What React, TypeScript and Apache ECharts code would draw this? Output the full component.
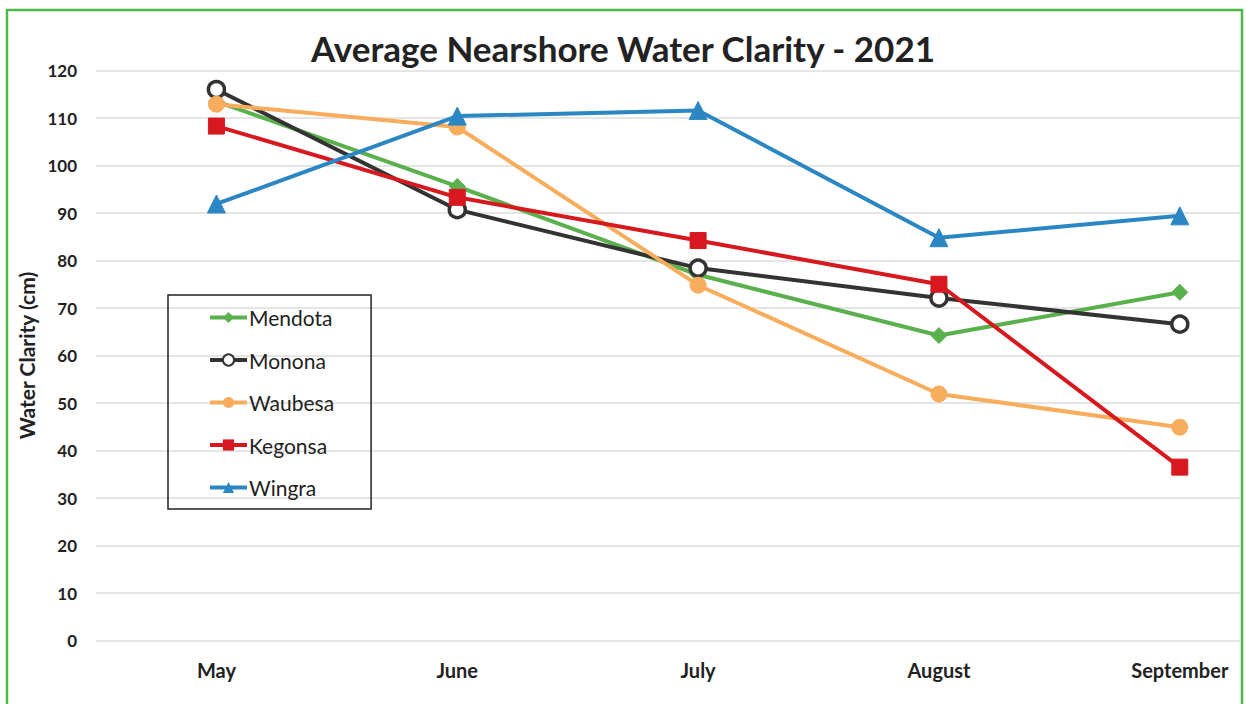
import React, { useEffect, useRef } from "react";
import * as echarts from "echarts";

const months = ["May", "June", "July", "August", "September"];
const mendota = [113.5, 95.6, 77, 64.2, 73.3];
const monona = [116, 90.7, 78.4, 72.1, 66.6];
const waubesa = [112.9, 108.1, 74.8, 51.9, 44.9];
const kegonsa = [108.3, 93.3, 84.2, 75, 36.5];
const wingra = [91.9, 110.4, 111.6, 84.8, 89.4];
const yTicks = { min: 0, max: 120, interval: 10 };

const toPoints = (vals: number[]) => vals.map((v, i) => [i, v]);

export default function App() {
  const ref = useRef<HTMLDivElement>(null);
  useEffect(() => {
    document.body.style.margin = "0";
    const chart = echarts.init(ref.current!, null, { renderer: "svg" });
    const font = "Lato, 'Open Sans', sans-serif";
    const lineSeries = (
      name: string,
      vals: number[],
      color: string,
      symbol: string,
      symbolSize: number
    ) => ({
      name,
      type: "line",
      data: toPoints(vals),
      symbol,
      symbolSize,
      showAllSymbol: true,
      lineStyle: { color, width: 4 },
      itemStyle: { color, borderColor: color },
    });
    chart.setOption({
      animation: false,
      backgroundColor: "#ffffff",
      title: {
        text: "Average Nearshore Water Clarity - 2021",
        left: "center",
        top: 25,
        textStyle: { fontFamily: font, fontSize: 35, fontWeight: "bold", color: "#222222" },
      },
      graphic: [
        {
          type: "rect",
          shape: { x: 7, y: 10, width: 1235, height: 710 },
          style: { fill: "none", stroke: "#4DB848", lineWidth: 2.5 },
          silent: true,
        },
      ],
      legend: {
        orient: "vertical",
        left: 168,
        top: 295,
        padding: [12, 37, 11, 40],
        borderColor: "#222222",
        borderWidth: 1.5,
        itemWidth: 37,
        itemHeight: 14,
        itemGap: 21.5,
        lineStyle: { width: 4 },
        textStyle: { fontFamily: font, fontSize: 21, color: "#222222", padding: [0, 0, 0, -3] },
        data: ["Mendota", "Monona", "Waubesa", "Kegonsa", "Wingra"],
      },
      grid: { left: 96, right: 6, top: 70.5, bottom: 63.5, containLabel: false },
      xAxis: {
        type: "value",
        min: -0.5,
        max: 4.25,
        interval: 0.25,
        axisLine: { show: false },
        axisTick: { show: false },
        splitLine: { show: false },
        axisLabel: {
          margin: 19,
          fontFamily: font,
          fontSize: 20,
          fontWeight: "bold",
          color: "#222222",
          showMinLabel: true,
          showMaxLabel: true,
          formatter: (v: number) =>
            Number.isInteger(v) && v >= 0 && v < months.length ? months[v] : "",
        },
      },
      yAxis: {
        type: "value",
        min: yTicks.min,
        max: yTicks.max,
        interval: yTicks.interval,
        name: "Water Clarity (cm)",
        nameLocation: "middle",
        nameGap: 54,
        nameTextStyle: { fontFamily: font, fontSize: 21, fontWeight: "bold", color: "#222222" },
        axisLine: { show: false },
        axisTick: { show: false },
        splitLine: { lineStyle: { color: "#dcdcdc", width: 1.5 } },
        axisLabel: {
          margin: 19,
          fontFamily: font,
          fontSize: 17,
          fontWeight: "bold",
          color: "#222222",
        },
      },
      series: [
        lineSeries("Mendota", mendota, "#5BB04E", "diamond", 16),
        {
          ...lineSeries("Monona", monona, "#333333", "circle", 16),
          itemStyle: { color: "#ffffff", borderColor: "#333333", borderWidth: 3.5 },
        },
        lineSeries("Waubesa", waubesa, "#F8AD5C", "circle", 16),
        lineSeries("Kegonsa", kegonsa, "#D7191F", "rect", 16),
        lineSeries("Wingra", wingra, "#2B87C3", "triangle", 18),
      ],
    });
    return () => chart.dispose();
  }, []);
  return <div ref={ref} style={{ width: 1246, height: 704 }} />;
}
